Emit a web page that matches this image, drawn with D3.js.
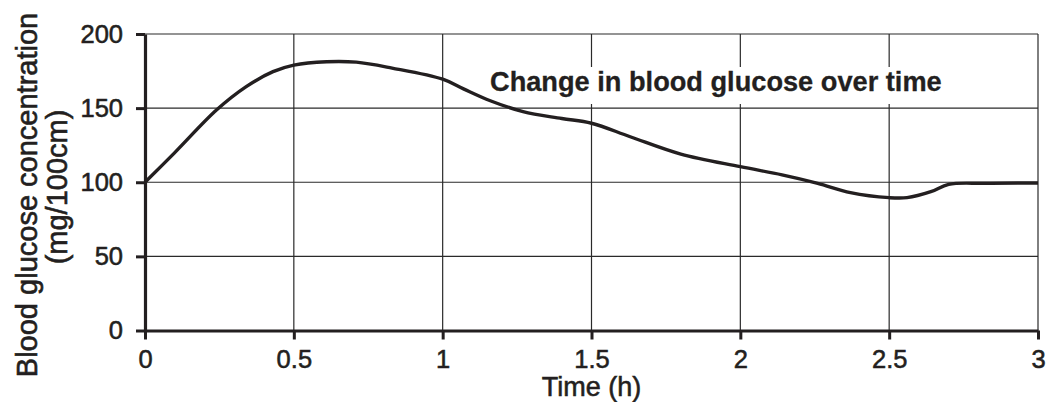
<!DOCTYPE html>
<html>
<head>
<meta charset="utf-8">
<script src="https://cdn.jsdelivr.net/npm/d3@7"></script>
<style>
  html, body { margin: 0; padding: 0; background: #fff; }
  svg { display: block; font-family: "Liberation Sans", Arial, Helvetica, sans-serif; }
</style>
</head>
<body>
<svg id="chart" width="1050" height="402"></svg>
<script>
const times   = [0, 0.1, 0.24, 0.34, 0.43, 0.5, 0.61, 0.71, 0.83, 1.0, 1.07, 1.16, 1.27, 1.4, 1.5, 1.63, 1.8, 2.0, 2.14, 2.26, 2.37, 2.5, 2.56, 2.64, 2.7, 2.82, 3.0];
const glucose = [100, 120, 148.7, 164.5, 174.6, 179, 181.3, 181, 177, 169.5, 163, 155, 147.6, 143, 139.8, 130.7, 119, 110.5, 105, 99.3, 93, 89.6, 89.6, 93.6, 98.6, 99.3, 99.5];
const xTicks = [0, 0.5, 1, 1.5, 2, 2.5, 3];
const yTicks = [0, 50, 100, 150, 200];
const chartTitle = "Change in blood glucose over time";
const xTitle = "Time (h)";
const yTitleLines = ["Blood glucose concentration", "(mg/100cm)"];

const ink = "#231f20";
const svg = d3.select("#chart");
const x = d3.scaleLinear().domain([0, 3]).range([145, 1038]);
const y = d3.scaleLinear().domain([0, 200]).range([330.5, 34]);

// grid
const grid = svg.append("g");
grid.selectAll("line.h").data(yTicks.filter(d => d > 0)).join("line")
  .attr("x1", x(0)).attr("x2", x(3))
  .attr("y1", d => y(d)).attr("y2", d => y(d))
  .attr("stroke", "#2a2a2a").attr("stroke-width", 1.2);
grid.selectAll("line.v").data(xTicks.filter(d => d > 0)).join("line")
  .attr("x1", d => x(d)).attr("x2", d => x(d))
  .attr("y1", y(0)).attr("y2", y(200))
  .attr("stroke", "#2a2a2a").attr("stroke-width", 1.2);

// title background knockout
svg.append("rect").attr("x", 485).attr("y", 67).attr("width", 463).attr("height", 37).attr("fill", "#fff");

// curve
const line = d3.line().x((d, i) => x(times[i])).y(d => y(d)).curve(d3.curveCatmullRom.alpha(0.5));
svg.append("path").datum(glucose).attr("d", line)
  .attr("fill", "none").attr("stroke", ink).attr("stroke-width", 3.4)
  .attr("stroke-linejoin", "round");

// axes
const xAxis = d3.axisBottom(x).tickValues(xTicks).tickSize(9).tickPadding(10).tickSizeOuter(0)
  .tickFormat(d3.format("~g"));
const gx = svg.append("g").attr("transform", `translate(0,${y(0)})`).call(xAxis);
const yAxis = d3.axisLeft(y).tickValues(yTicks).tickSize(9).tickPadding(13).tickSizeOuter(0);
const gy = svg.append("g").attr("transform", `translate(${x(0)},0)`).call(yAxis);
[gx, gy].forEach(g => {
  g.select(".domain").attr("stroke", ink).attr("stroke-width", 3.2);
  g.selectAll(".tick line").attr("stroke", ink).attr("stroke-width", 3);
  g.selectAll(".tick text").attr("fill", ink).attr("font-size", 25.5)
    .attr("stroke", ink).attr("stroke-width", 0.55)
    .attr("font-family", "'Liberation Sans', Arial, sans-serif");
});

// chart title
svg.append("text").attr("x", 490).attr("y", 91)
  .attr("font-size", 27.2).attr("font-weight", "bold").attr("fill", ink)
  .attr("stroke", ink).attr("stroke-width", 0.3)
  .text(chartTitle);

// x title
svg.append("text").attr("x", (x(0) + x(3)) / 2).attr("y", 396)
  .attr("text-anchor", "middle").attr("font-size", 27).attr("fill", ink)
  .attr("stroke", ink).attr("stroke-width", 0.55)
  .text(xTitle);

// y title
svg.append("text").attr("transform", "translate(37,195) rotate(-90)")
  .attr("text-anchor", "middle").attr("font-size", 29).attr("fill", ink)
  .attr("stroke", ink).attr("stroke-width", 0.6)
  .text(yTitleLines[0]);
svg.append("text").attr("transform", "translate(67,187) rotate(-90)")
  .attr("text-anchor", "middle").attr("font-size", 29).attr("fill", ink)
  .attr("stroke", ink).attr("stroke-width", 0.6)
  .text(yTitleLines[1]);
</script>
</body>
</html>
